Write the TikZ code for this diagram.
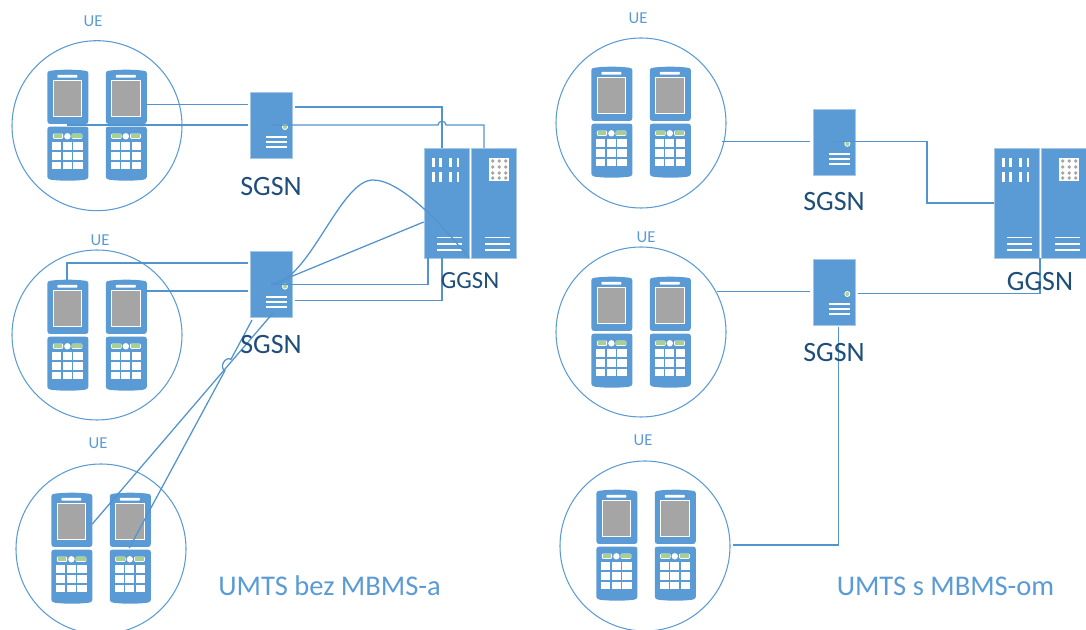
\documentclass[tikz,border=0pt]{standalone}
\usepackage{fontspec}
\setmainfont{Carlito}
\definecolor{blu}{HTML}{5B9BD5}
\definecolor{ln}{HTML}{5393CE}
\definecolor{dk}{HTML}{1F4E79}
\definecolor{gry}{HTML}{A5A5A5}
\definecolor{grn}{HTML}{A9D18E}
\tikzset{
  x=0.75pt,y=-0.75pt,
  ring/.style={circle,draw=blu,line width=0.8pt,minimum size=127.5pt,inner sep=0pt},
  uelabel/.style={text=blu,font=\fontsize{12.5}{14}\selectfont,inner sep=0pt},
  srvlabel/.style={text=dk,font=\fontsize{21}{24}\selectfont,inner sep=0pt},
  gwlabel/.style={text=dk,font=\fontsize{18.5}{22}\selectfont,inner sep=0pt},
  gwlabelb/.style={text=dk,font=\fontsize{21}{24}\selectfont,inner sep=0pt},
  title/.style={text=blu,font=\fontsize{21.4}{24}\selectfont,inner sep=0pt},
  srvbox/.style={fill=blu,draw=blu!55,line width=0.4pt,minimum width=31.5pt,minimum height=49.5pt,inner sep=0pt},
  rackbox/.style={fill=blu,draw=blu!55,line width=0.4pt,minimum width=34pt,minimum height=82.5pt,inner sep=0pt},
  link/.style={draw=ln,line width=0.95pt},
  handset/.pic={
    % screen half
    \fill[blu] (0,3) .. controls (0,1) and (2,1) .. (4,0.6) .. controls (14,-0.6) and (27,-0.6) .. (37,0.6) .. controls (39,1) and (41,1) .. (41,3) -- (41,51) .. controls (41,53) and (40,54) .. (38,54) -- (3,54) .. controls (1,54) and (0,53) .. (0,51) -- cycle;
    \fill[white,rounded corners=0.5pt] (10,5) rectangle (30,7.6);
    \fill[white] (5.3,10) rectangle (35,47.2);
    \fill[gry] (6.3,11) rectangle (34,46.2);
    % keypad half
    \fill[blu] (0,59) .. controls (0,57.5) and (1,56.7) .. (3,56.7) -- (38,56.7) .. controls (40,56.7) and (41,57.5) .. (41,59) -- (41,107) .. controls (41,109) and (39,109.4) .. (37,109.8) .. controls (27,111) and (14,111) .. (4,109.8) .. controls (2,109.4) and (0,109) .. (0,107) -- cycle;
    \fill[white,rounded corners=0.8pt] (5.4,63.6) rectangle (15.8,68.8);
    \fill[white,rounded corners=0.8pt] (24.2,63.6) rectangle (35,68.8);
    \fill[grn] (6.2,64.4) rectangle (15,68);
    \fill[grn] (25,64.4) rectangle (34.2,68);
    \fill[white] (20,66.3) circle[radius=2.4pt];
    \foreach \r in {72.3,82,91.7}{
      \foreach \c in {4.7,15.3,26}{
        \fill[white] (\c,\r) rectangle +(9.2,7.8);
      }
    }
  },
  twophones/.pic={
    \pic at (0,0) {handset};
    \pic at (58.4,0) {handset};
  },
  srvmarks/.pic={
    \fill[grn,draw=white,line width=0.6pt] (13.3,2) circle[radius=1.9pt];
    \foreach \q in {11.4,16.4,21.4}{\fill[white] (-5.3,\q) rectangle (15.7,\q+1.6);}
  },
  rackmarks/.pic={
    % left cabinet, origin at its top left
    \foreach \c in {8.3,15.6,25.6,33}{
      \fill[white] (\c,9.7) rectangle +(2.6,9.6);
      \fill[white] (\c,24) rectangle +(2.6,10);
    }
    \foreach \q in {88.6,94.8,101}{
      \fill[white] (13,\q) rectangle (38,\q+1.8);
      \fill[white] (61.5,\q) rectangle (86,\q+1.8);
    }
    \fill[white] (65,10) rectangle (85.6,33);
    \foreach \c in {69,75.5,82}{
      \foreach \r in {13,19,25,30}{
        \fill[gry] (\c,\r) circle[radius=1.4pt];
      }
    }
  }
}
\begin{document}
\begin{tikzpicture}
\useasboundingbox (0,0) rectangle (1086,630);

% coverage rings
\node[ring] (c1) at (97,125.7) {};
\node[ring] (c2) at (97,335) {};
\node[ring] (c3) at (101,549) {};
\node[ring] (c4) at (641,123) {};
\node[ring] (c5) at (641,332) {};
\node[ring] (c6) at (645,546) {};

% handsets
\pic at (47.4,70) {twophones};
\pic at (47.4,280) {twophones};
\pic at (51.4,493) {twophones};
\pic at (591.4,67) {twophones};
\pic at (591.4,277) {twophones};
\pic at (596.4,490) {twophones};

% servers
\node[srvbox] (s1) at (271.7,125) {};
\node[srvbox] (s2) at (271.7,284.6) {};
\node[srvbox] (s3) at (834,141.8) {};
\node[srvbox] (s4) at (834,292) {};
\pic at (271.7,125) {srvmarks};
\pic at (271.7,284.6) {srvmarks};
\pic at (834,141.8) {srvmarks};
\pic at (834,292) {srvmarks};

% gateways
\node[rackbox] (g1a) at (446.5,203) {};
\node[rackbox] (g1b) at (493.8,203) {};
\node[rackbox] (g2a) at (1016.5,203) {};
\node[rackbox] (g2b) at (1063.8,203) {};
\pic at (423.7,148) {rackmarks};
\pic at (993.7,148) {rackmarks};

% free ends of connectors
\coordinate (a1) at (146,104.5);
\coordinate (a2) at (67,125);
\coordinate (a3) at (67,280);
\coordinate (a4) at (146,291);
\coordinate (a5) at (92.3,524);
\coordinate (a6) at (129.3,548);
\coordinate (b1) at (248,104.5);
\coordinate (b2) at (248,125);
\coordinate (b3) at (248,263);
\coordinate (b4) at (248,291);
\coordinate (b5) at (273,313);
\coordinate (b6) at (252,320);
\coordinate (t1) at (295,107);
\coordinate (t2) at (295,300.5);
\coordinate (r1) at (722,141.8);
\coordinate (r2) at (810,141.8);
\coordinate (r3) at (717,291.7);
\coordinate (r4) at (810,291.7);
\coordinate (r5) at (858,293.5);
\coordinate (r6) at (838.5,327);
\coordinate (r7) at (733,545);

% connectors, left part
\draw[link] (a1) -- (b1);
\draw[link] (a2) -- (b2);
\draw[link] (a3) -- (67,263) -- (b3);
\draw[link] (a4) -- (b4);
\draw[link] (a5) -- (b5);
\draw[link] (a6) -- (224.9,370.7) .. controls (218.9,367.4) and (225,356) .. (231,359.3) -- (b6);
\draw[link] (t1) -- (442,107) -- (442,148);
\draw[link] (s1.center) -- (438,125) .. controls (438,120) and (446,120) .. (446,125) -- (484,125) -- (484,148);
\draw[link] (s2.center) -- (428,284.6) -- (428,258);
\draw[link] (t2) -- (442,300.5) -- (442,258);
\draw[link] (s2.center) -- (423.7,222);
\draw[link] (s2.center) .. controls (310,280) and (340,180) .. (373,180) .. controls (400,180) and (440,222) .. (469,258);

% connectors, right part
\draw[link] (r1) -- (r2);
\draw[link] (s3.center) -- (927,141.8) -- (927,203) -- (g2a.west);
\draw[link] (r3) -- (r4);
\draw[link] (r5) -- (1040,293.5) -- (1040,258);
\draw[link] (r6) -- (838.5,545) -- (r7);

% labels
\node[uelabel] (u1) at (93,21.5) {UE};
\node[uelabel] (u2) at (100,240.5) {UE};
\node[uelabel] (u3) at (98,443.5) {UE};
\node[uelabel] (u4) at (638,18.5) {UE};
\node[uelabel] (u5) at (646,237.5) {UE};
\node[uelabel] (u6) at (643,440.5) {UE};
\node[srvlabel] (l1) at (271,186.8) {SGSN};
\node[srvlabel] (l2) at (271,344.8) {SGSN};
\node[srvlabel] (l3) at (834,201.8) {SGSN};
\node[srvlabel] (l4) at (834,352.8) {SGSN};
\node[gwlabel] (l5) at (470,281) {GGSN};
\node[gwlabelb] (l6) at (1040,282) {GGSN};
\node[title] (t5) at (329.5,586) {UMTS bez MBMS-a};
\node[title] (t6) at (945.5,586) {UMTS s MBMS-om};
\end{tikzpicture}
\end{document}
